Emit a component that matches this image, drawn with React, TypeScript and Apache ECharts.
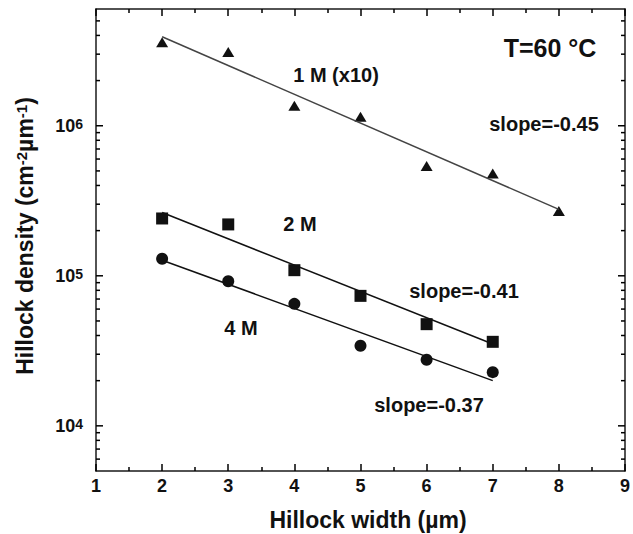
import React, { useEffect, useRef } from "react";
import * as echarts from "echarts";

const FONT = "Liberation Sans, Arial, Helvetica, sans-serif";

// Axis ranges
const X_MIN = 1;
const X_MAX = 9;
const Y_MIN = 5000;
const Y_MAX = 6e6;

// Data
const widths1M = [2, 3, 4, 5, 6, 7, 8];
const density1M = [3.6e6, 3.1e6, 1.36e6, 1.15e6, 5.4e5, 4.8e5, 2.7e5];
const widths2M = [2, 3, 4, 5, 6, 7];
const density2M = [2.41e5, 2.2e5, 1.09e5, 7.35e4, 4.76e4, 3.63e4];
const widths4M = [2, 3, 4, 5, 6, 7];
const density4M = [1.3e5, 9.2e4, 6.5e4, 3.42e4, 2.76e4, 2.28e4];

// Fitted lines (end points)
const fit1M = [[2, 3.92e6], [8, 2.77e5]];
const fit2M = [[2, 2.64e5], [7, 3.51e4]];
const fit4M = [[2, 1.27e5], [7, 2.0e4]];

// Log-axis tick positions
const yMajorTicks = [1e4, 1e5, 1e6];
const yMinorTicks = [
  6000, 7000, 8000, 9000,
  2e4, 3e4, 4e4, 5e4, 6e4, 7e4, 8e4, 9e4,
  2e5, 3e5, 4e5, 5e5, 6e5, 7e5, 8e5, 9e5,
  2e6, 3e6, 4e6, 5e6,
];

const zip = (xs: number[], ys: number[]) => xs.map((x, i) => [x, ys[i]]);

export default function App() {
  const ref = useRef<HTMLDivElement>(null);

  useEffect(() => {
    if (!ref.current) return;
    const chart = echarts.init(ref.current, null, { renderer: "svg" });
    const axisColor = "#000";
    const MAJOR_LEN = 7;
    const MINOR_LEN = 4;

    // [x at axis, value, signed tick length] for left and right frame ticks
    const tickData: number[][] = [];
    yMajorTicks.forEach((v) => {
      tickData.push([X_MIN, v, MAJOR_LEN]);
      tickData.push([X_MAX, v, -MAJOR_LEN]);
    });
    yMinorTicks.forEach((v) => {
      tickData.push([X_MIN, v, MINOR_LEN]);
      tickData.push([X_MAX, v, -MINOR_LEN]);
    });

    const xAxisBase = {
      type: "value",
      min: X_MIN,
      max: X_MAX,
      interval: 1,
      axisLine: { show: true, onZero: false, lineStyle: { color: "#1a1a1a", width: 1.5 } },
      axisTick: { show: true, inside: true, length: MAJOR_LEN, lineStyle: { color: axisColor, width: 1.5 } },
      minorTick: { show: true, splitNumber: 2, length: MINOR_LEN, lineStyle: { color: axisColor, width: 1.5 } },
      splitLine: { show: false },
      minorSplitLine: { show: false },
    };

    const yAxisBase = {
      type: "log",
      logBase: 10,
      min: Y_MIN,
      max: Y_MAX,
      axisLine: { show: true, onZero: false, lineStyle: { color: "#1a1a1a", width: 1.5 } },
      axisTick: { show: false },
      splitLine: { show: false },
      minorSplitLine: { show: false },
    };

    const textStyle = (size: number) => ({
      font: `bold ${size}px ${FONT}`,
      fill: "#111",
      align: "center",
      verticalAlign: "middle",
    });

    const option: any = {
      animation: false,
      grid: { left: 96, right: 3, top: 9, bottom: 63 },
      xAxis: [
        {
          ...xAxisBase,
          position: "bottom",
          axisLabel: {
            margin: 6,
            color: "#111",
            fontSize: 18,
            fontWeight: "bold",
            fontFamily: FONT,
            showMinLabel: true,
            showMaxLabel: true,
          },
        },
        { ...xAxisBase, position: "top", axisLabel: { show: false } },
      ],
      yAxis: [
        {
          ...yAxisBase,
          position: "left",
          axisLabel: {
            margin: 13,
            showMinLabel: false,
            showMaxLabel: false,
            fontSize: 18,
            fontWeight: "bold",
            fontFamily: FONT,
            color: "#111",
            formatter: (v: number) => {
              const e = Math.log10(v);
              if (Math.abs(e - Math.round(e)) < 1e-6) return `{b|10}{s|${Math.round(e)}}`;
              return "";
            },
            rich: {
              b: { fontSize: 18, fontWeight: "bold", fontFamily: FONT, color: "#111" },
              s: { fontSize: 14, fontWeight: "bold", fontFamily: FONT, color: "#111", verticalAlign: "top" },
            },
          },
        },
        { ...yAxisBase, position: "right", axisLabel: { show: false } },
      ],
      series: [
        {
          type: "custom",
          clip: false,
          silent: true,
          data: tickData,
          renderItem: (params: any, api: any) => {
            const p = api.coord([api.value(0), api.value(1)]);
            const len = api.value(2);
            return {
              type: "line",
              shape: { x1: p[0], y1: p[1], x2: p[0] + len, y2: p[1] },
              style: { stroke: axisColor, lineWidth: 1.5 },
            };
          },
        },
        { type: "line", data: fit1M, symbol: "none", silent: true, lineStyle: { color: "#444", width: 1.5 } },
        { type: "line", data: fit2M, symbol: "none", silent: true, lineStyle: { color: "#111", width: 1.5 } },
        { type: "line", data: fit4M, symbol: "none", silent: true, lineStyle: { color: "#111", width: 1.5 } },
        {
          type: "scatter",
          data: zip(widths1M, density1M),
          symbol: "triangle",
          symbolSize: [12, 10],
          itemStyle: { color: "#111", opacity: 1 },
        },
        {
          type: "scatter",
          data: zip(widths2M, density2M),
          symbol: "rect",
          symbolSize: 12,
          itemStyle: { color: "#111", opacity: 1 },
        },
        {
          type: "scatter",
          data: zip(widths4M, density4M),
          symbol: "circle",
          symbolSize: 12,
          itemStyle: { color: "#111", opacity: 1 },
        },
      ],
      graphic: [
        { type: "text", x: 368, y: 520, style: { ...textStyle(23), text: "Hillock width (µm)" } },
        {
          type: "text",
          x: 25,
          y: 236,
          rotation: Math.PI / 2,
          style: {
            text: "{a|Hillock density (cm}{s|-2}{a|µm}{s|-1}{a|)}",
            rich: {
              a: { fontSize: 23, fontWeight: "bold", fontFamily: FONT, fill: "#111" },
              s: { fontSize: 15, fontWeight: "bold", fontFamily: FONT, fill: "#111", verticalAlign: "top" },
            },
            align: "center",
            verticalAlign: "middle",
          },
        },
        { type: "text", x: 550, y: 48, style: { ...textStyle(25), text: "T=60 °C" } },
        { type: "text", x: 336, y: 75, style: { ...textStyle(20), text: "1 M (x10)" } },
        { type: "text", x: 544, y: 124, style: { ...textStyle(20), text: "slope=-0.45" } },
        { type: "text", x: 300, y: 224, style: { ...textStyle(20), text: "2 M" } },
        { type: "text", x: 464, y: 291, style: { ...textStyle(20), text: "slope=-0.41" } },
        { type: "text", x: 241, y: 328, style: { ...textStyle(20), text: "4 M" } },
        { type: "text", x: 429, y: 405, style: { ...textStyle(20), text: "slope=-0.37" } },
      ],
    };

    chart.setOption(option);
    return () => chart.dispose();
  }, []);

  return (
    <div
      ref={ref}
      style={{ position: "fixed", left: 0, top: 0, width: 633, height: 534, background: "#fff" }}
    />
  );
}
